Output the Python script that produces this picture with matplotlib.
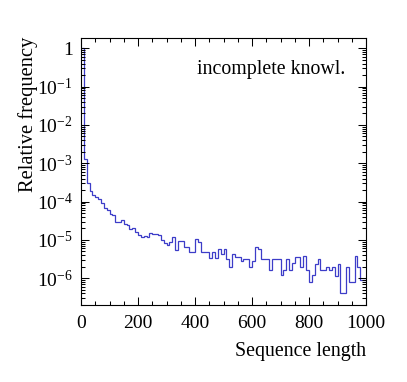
import numpy as np
import matplotlib
matplotlib.use("Agg")
import matplotlib.pyplot as plt
from matplotlib.ticker import LogLocator, MultipleLocator, FixedLocator, NullFormatter

plt.rcParams['font.family'] = ['Liberation Serif', 'DejaVu Serif']
plt.rcParams['mathtext.fontset'] = 'custom'
plt.rcParams['mathtext.rm'] = 'Liberation Serif'
plt.rcParams['mathtext.it'] = 'Liberation Serif:italic'

# ---- data ----
bin_low = 0
bin_high = 1000
n_bins = 100
frequency = [
    1.0, 1.29e-3, 2.99e-4, 1.91e-4, 1.48e-4, 1.33e-4, 1.14e-4, 8.97e-5, 6.64e-5, 6.0e-5,
    4.63e-5, 4.44e-5, 2.97e-5, 2.97e-5, 3.29e-5, 2.59e-5, 2.43e-5, 1.91e-5, 2.0e-5, 1.57e-5,
    1.33e-5, 1.21e-5, 1.26e-5, 1.21e-5, 1.48e-5, 1.39e-5, 1.42e-5, 1.33e-5, 9.9e-6, 8.1e-6,
    7.3e-6, 8.9e-6, 1.16e-5, 5.4e-6, 9.3e-6, 9.5e-6, 6.6e-6, 6.6e-6, 4.9e-6, 4.9e-6,
    1.05e-5, 8.9e-6, 4.9e-6, 4.9e-6, 4.9e-6, 3.4e-6, 4.9e-6, 3.4e-6, 5.65e-6, 4.4e-6,
    5.65e-6, 3.1e-6, 1.99e-6, 4.4e-6, 3.5e-6, 3.5e-6, 2.85e-6, 3.2e-6, 3.2e-6, 1.99e-6,
    2.85e-6, 6.4e-6, 5.9e-6, 3.1e-6, 3.1e-6, 3.1e-6, 1.63e-6, 3.1e-6, 3.1e-6, 3.1e-6,
    1.18e-6, 1.63e-6, 3.2e-6, 1.63e-6, 2.43e-6, 3.5e-6, 3.5e-6, 1.99e-6, 3.9e-6, 1.63e-6,
    7.9e-7, 1.18e-6, 2.33e-6, 3.1e-6, 1.63e-6, 1.63e-6, 1.99e-6, 1.63e-6, 1.99e-6, 1.13e-6,
    2.33e-6, 4.0e-7, 4.0e-7, 1.99e-6, 7.9e-7, 7.9e-7, 3.9e-6, 1.99e-6, 8.9e-7, 8.9e-7,
]
x_ticks = [0, 200, 400, 600, 800, 1000]
x_ticklabels = ["0", "200", "400", "600", "800", "1000"]
y_ticks = [1, 1e-1, 1e-2, 1e-3, 1e-4, 1e-5, 1e-6]
y_ticklabels = ["1", r"$\mathregular{10^{-1}}$", r"$\mathregular{10^{-2}}$", r"$\mathregular{10^{-3}}$",
                r"$\mathregular{10^{-4}}$", r"$\mathregular{10^{-5}}$", r"$\mathregular{10^{-6}}$"]
x_title = "Sequence length"
y_title = "Relative frequency"
label_text = "incomplete knowl."

W, H = 407, 382
fig = plt.figure(figsize=(W / 100, H / 100), dpi=100)
ax = fig.add_axes([81 / W, 1 - 305 / H, (366 - 81) / W, (305 - 38) / H])

edges = np.linspace(bin_low, bin_high, n_bins + 1)
ax.stairs(frequency, edges, baseline=None, color='#3c3cc8', linewidth=0.9)

ax.set_yscale('log')
ax.set_xlim(bin_low, bin_high)
ax.set_ylim(2.0e-7, 1.86)

ax.xaxis.set_major_locator(FixedLocator(x_ticks))
ax.set_xticklabels(x_ticklabels)
ax.xaxis.set_minor_locator(MultipleLocator(50))
ax.yaxis.set_major_locator(FixedLocator(y_ticks))
ax.set_yticklabels(y_ticklabels)
ax.yaxis.set_minor_locator(LogLocator(base=10, subs=np.arange(2, 10), numticks=20))
ax.yaxis.set_minor_formatter(NullFormatter())

ax.tick_params(which='both', direction='in', top=True, right=True, width=0.75, colors='black',
               labelsize=14)
ax.tick_params(which='major', length=6)
ax.tick_params(which='minor', length=3)
ax.tick_params(axis='x', which='major', pad=7)
ax.tick_params(axis='y', which='major', pad=6)
for s in ax.spines.values():
    s.set_linewidth(0.8)

fig.text(366 / W, 1 - 356 / H, x_title, ha='right', va='baseline', fontsize=14.3)
fig.text(28 / W, 1 - 37 / H, y_title, ha='center', va='top', rotation=90, fontsize=14.8)
fig.text(345 / W, 1 - 74 / H, label_text, ha='right', va='baseline', fontsize=14.3)

fig.savefig('out.png', dpi=100)
